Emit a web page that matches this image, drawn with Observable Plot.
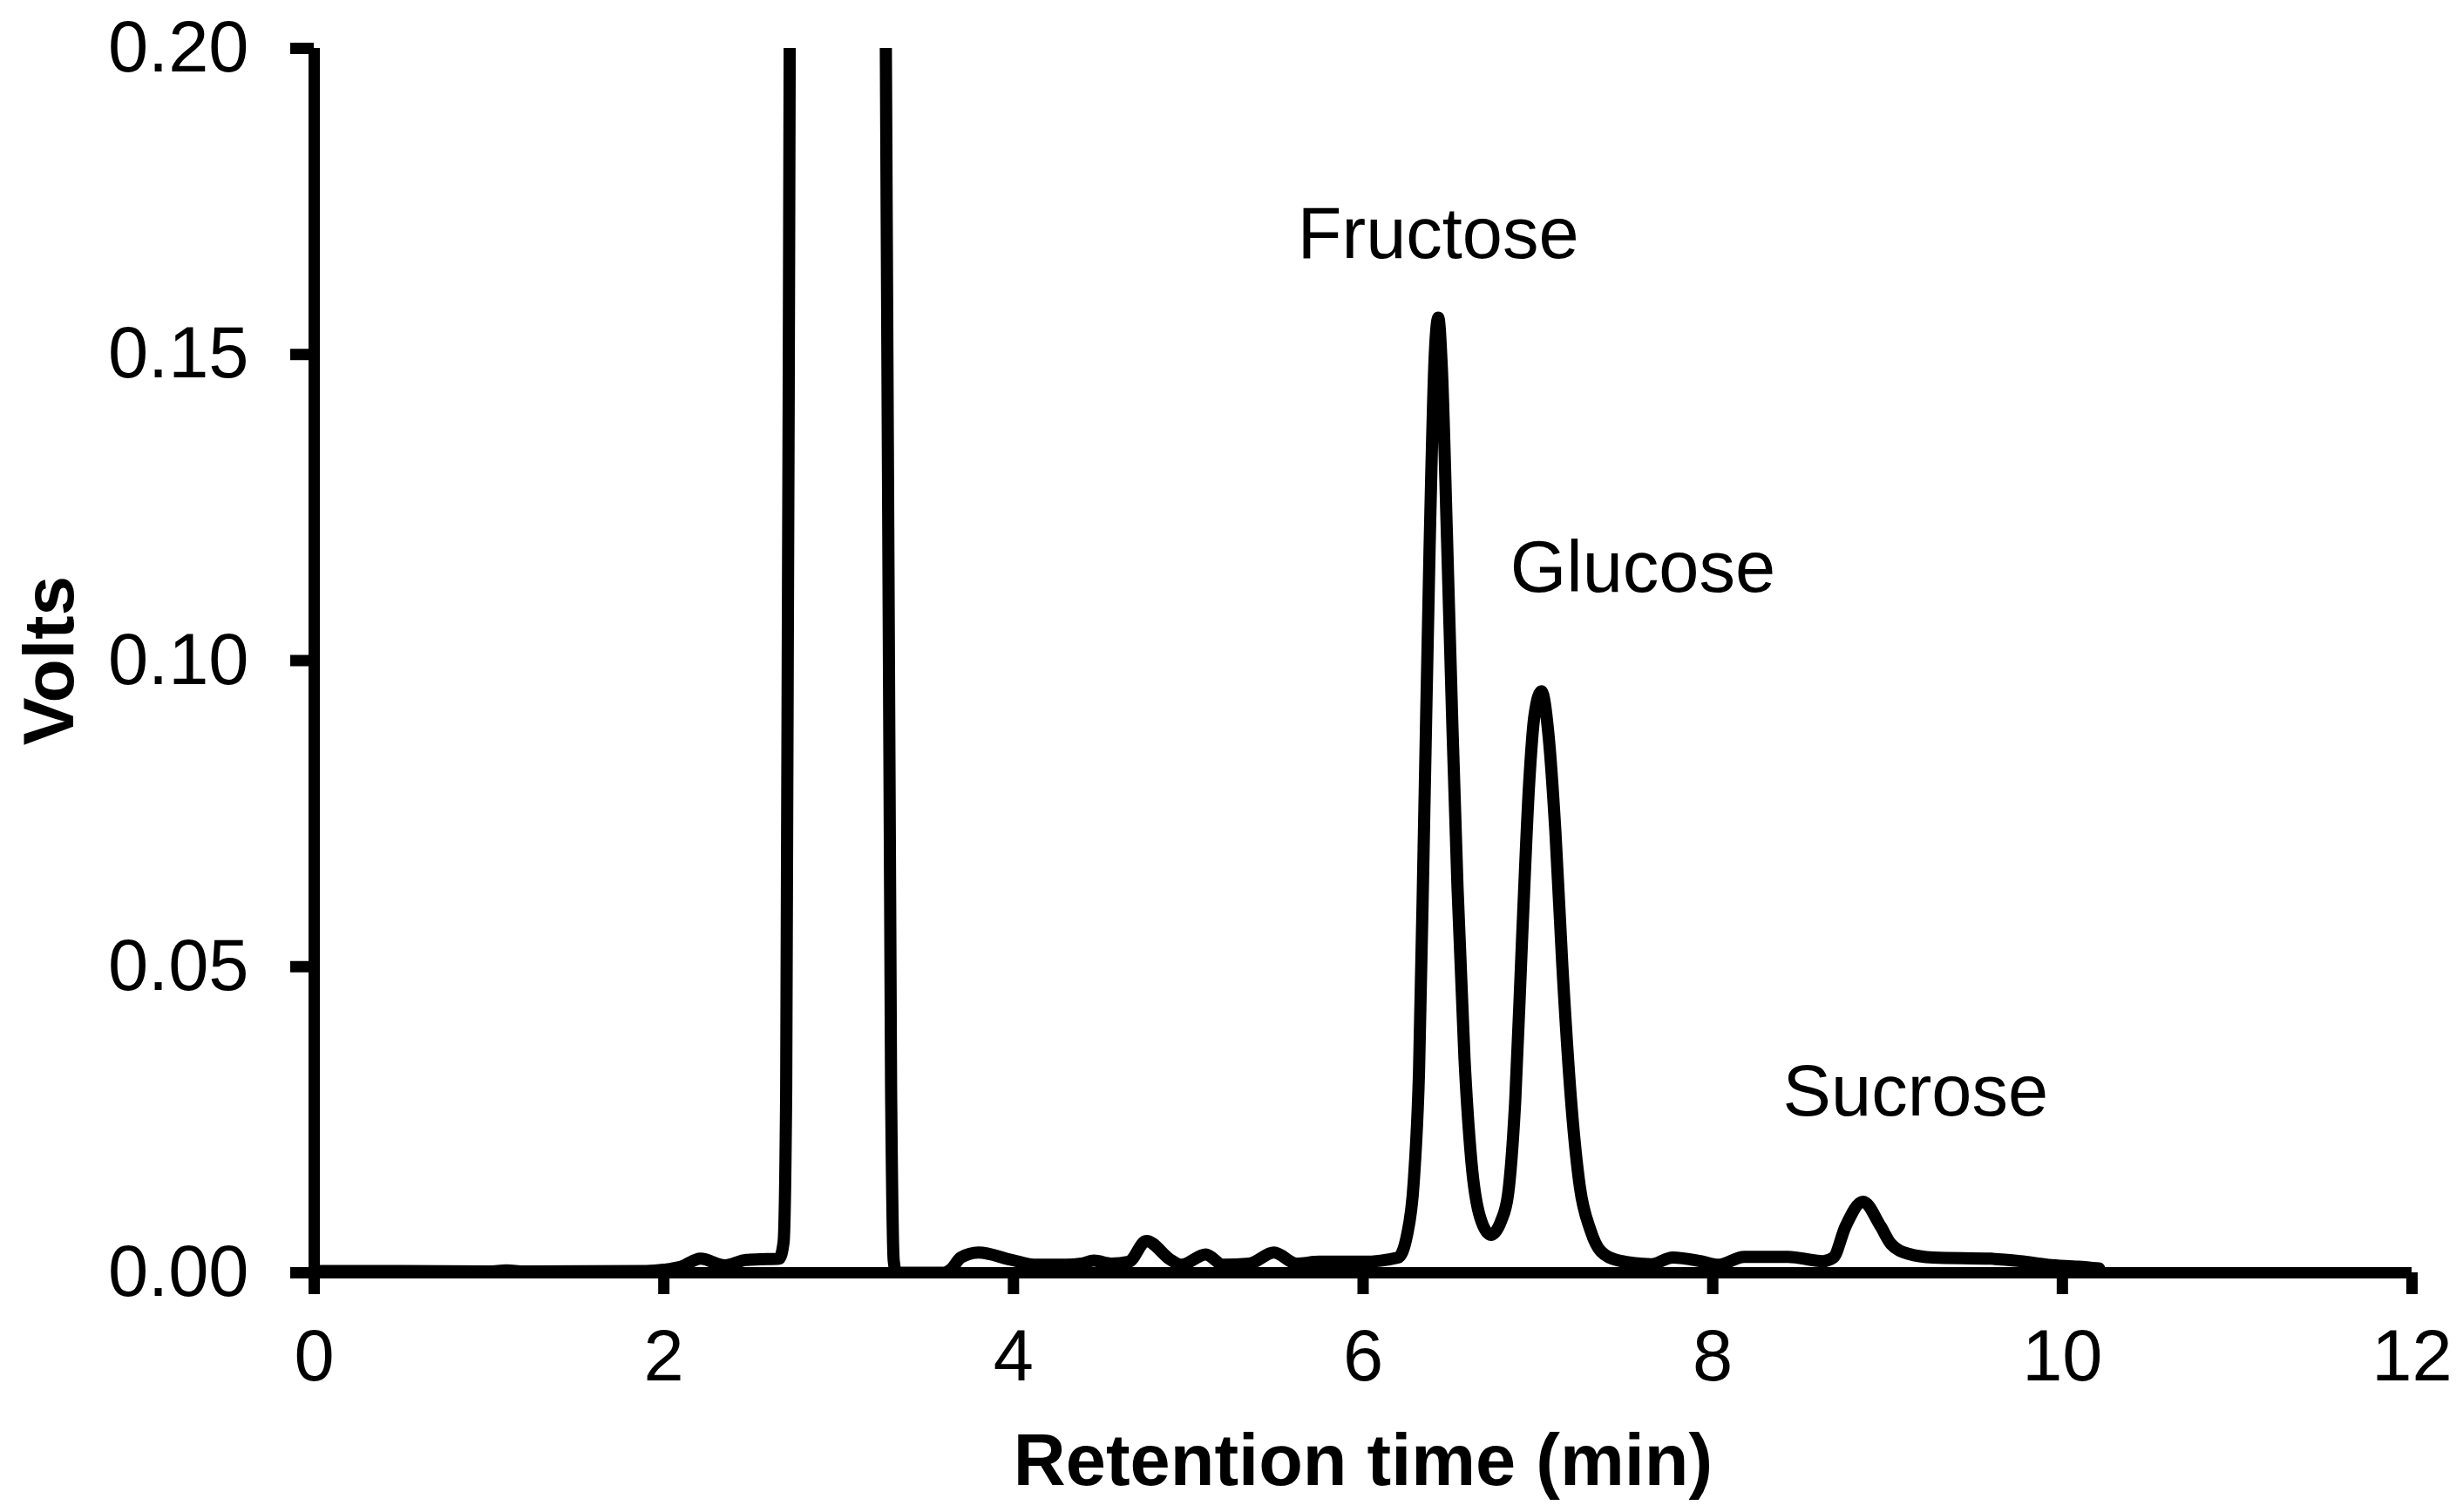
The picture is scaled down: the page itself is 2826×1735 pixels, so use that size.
<!DOCTYPE html>
<html><head><meta charset="utf-8">
<script src="https://cdn.jsdelivr.net/npm/d3@7"></script>
<script src="https://cdn.jsdelivr.net/npm/@observablehq/plot@0.6"></script>
<style>html,body{margin:0;padding:0;background:#fff;overflow:hidden;}</style>
</head><body><div id="chart"></div>
<script>
// Chromatogram trace (retention time in min, detector signal in volts)
const time = [0, 0.5, 1.0, 1.1, 1.2, 1.9, 2.0, 2.1, 2.21, 2.35, 2.47, 2.55, 2.66, 2.685, 2.70, 2.72, 2.75, 3.0, 3.24, 3.27, 3.30, 3.315, 3.33, 3.45, 3.60,
  3.64, 3.70, 3.80, 3.99, 4.13, 4.30, 4.39, 4.46, 4.56, 4.66, 4.76, 4.90, 4.96, 5.10, 5.20, 5.35, 5.49, 5.62, 5.75, 6.0, 6.20,
  6.25, 6.29, 6.32, 6.35, 6.38, 6.41, 6.43, 6.45, 6.48, 6.51, 6.54, 6.58, 6.62, 6.67, 6.73, 6.79,
  6.83, 6.87, 6.91, 6.95, 6.98, 7.02, 7.06, 7.10, 7.14, 7.19, 7.24, 7.30, 7.36, 7.46, 7.65, 7.77, 7.93, 8.03, 8.18, 8.43, 8.63,
  8.69, 8.76, 8.86, 8.96, 9.02, 9.12, 9.26, 9.59, 9.76, 9.92, 10.09, 10.21];
const volts = [0.0003, 0.0003, 0.0002, 0.0004, 0.0002, 0.0003, 0.0005, 0.0010, 0.0023, 0.0012, 0.0021, 0.0022, 0.0023, 0.005, 0.03, 0.2, 0.5, 1.0, 0.5, 0.2, 0.03, 0.002, 0.0, 0.0, 0.0,
  0.0005, 0.0025, 0.0033, 0.0021, 0.0013, 0.0013, 0.0015, 0.0020, 0.0015, 0.0018, 0.0052, 0.0021, 0.0013, 0.0030, 0.0013, 0.0015, 0.0033, 0.0015, 0.0018, 0.0018, 0.0025,
  0.0060, 0.0150, 0.0330, 0.0750, 0.1180, 0.1500, 0.1560, 0.1480, 0.1200, 0.0900, 0.0630, 0.0350, 0.0180, 0.0090, 0.0062, 0.0085,
  0.0130, 0.0280, 0.0550, 0.0800, 0.0910, 0.0950, 0.0880, 0.0720, 0.0500, 0.0280, 0.0140, 0.0070, 0.0035, 0.0020, 0.0014, 0.0025, 0.0019, 0.0013, 0.0026, 0.0026, 0.0019,
  0.0025, 0.0076, 0.0116, 0.0076, 0.0047, 0.0031, 0.0025, 0.0023, 0.0019, 0.0013, 0.0010, 0.0007];

const xTicks = [0, 2, 4, 6, 8, 10, 12];
const xTickLabels = ["0", "2", "4", "6", "8", "10", "12"];
const yTicks = [0, 0.05, 0.10, 0.15, 0.20];
const yTickLabels = ["0.00", "0.05", "0.10", "0.15", "0.20"];

const peakNames = ["Fructose", "Glucose", "Sucrose"];
const peakLabelX = [6.43, 7.60, 9.16];
const peakLabelY = [0.1696, 0.1150, 0.0295];

const xTitle = "Retention time (min)";
const yTitle = "Volts";

const trace = time.map((t, i) => ({t, v: volts[i]}));
const labels = peakNames.map((name, i) => ({name, x: peakLabelX[i], y: peakLabelY[i]}));

const chart = Plot.plot({
  width: 2826,
  height: 1735,
  marginLeft: 360,
  marginRight: 59,
  marginTop: 55,
  marginBottom: 275,
  x: {domain: [0, 12]},
  y: {domain: [0, 0.2]},
  style: {fontFamily: "'Liberation Sans', Arial, sans-serif", background: "white", color: "black", overflow: "visible"},
  marks: [
    Plot.line(trace, {x: "t", y: "v", stroke: "black", strokeWidth: 14, curve: "monotone-x", clip: true}),
    Plot.ruleY([0], {stroke: "black", strokeWidth: 13}),
    Plot.ruleX([0], {stroke: "black", strokeWidth: 13}),
    Plot.axisX({ticks: xTicks, tickSize: 25, tickPadding: 40, strokeWidth: 13, fontSize: 83, label: null,
      tickFormat: d => xTickLabels[xTicks.indexOf(d)]}),
    Plot.axisY({ticks: yTicks, tickSize: 27, tickPadding: 48, strokeWidth: 13, fontSize: 83, label: null,
      tickFormat: d => yTickLabels[yTicks.indexOf(d)]}),
    Plot.text(labels, {x: "x", y: "y", text: "name", fontSize: 83, fill: "black"}),
    Plot.text([xTitle], {frameAnchor: "bottom", dy: 217, textAnchor: "middle", lineAnchor: "middle", fontSize: 83, fontWeight: "bold", fill: "black"}),
    Plot.text([yTitle], {frameAnchor: "left", dx: -303, rotate: -90, textAnchor: "middle", lineAnchor: "middle", fontSize: 82, fontWeight: "bold", fill: "black"})
  ]
});
document.getElementById("chart").appendChild(chart);
</script>
</body></html>
